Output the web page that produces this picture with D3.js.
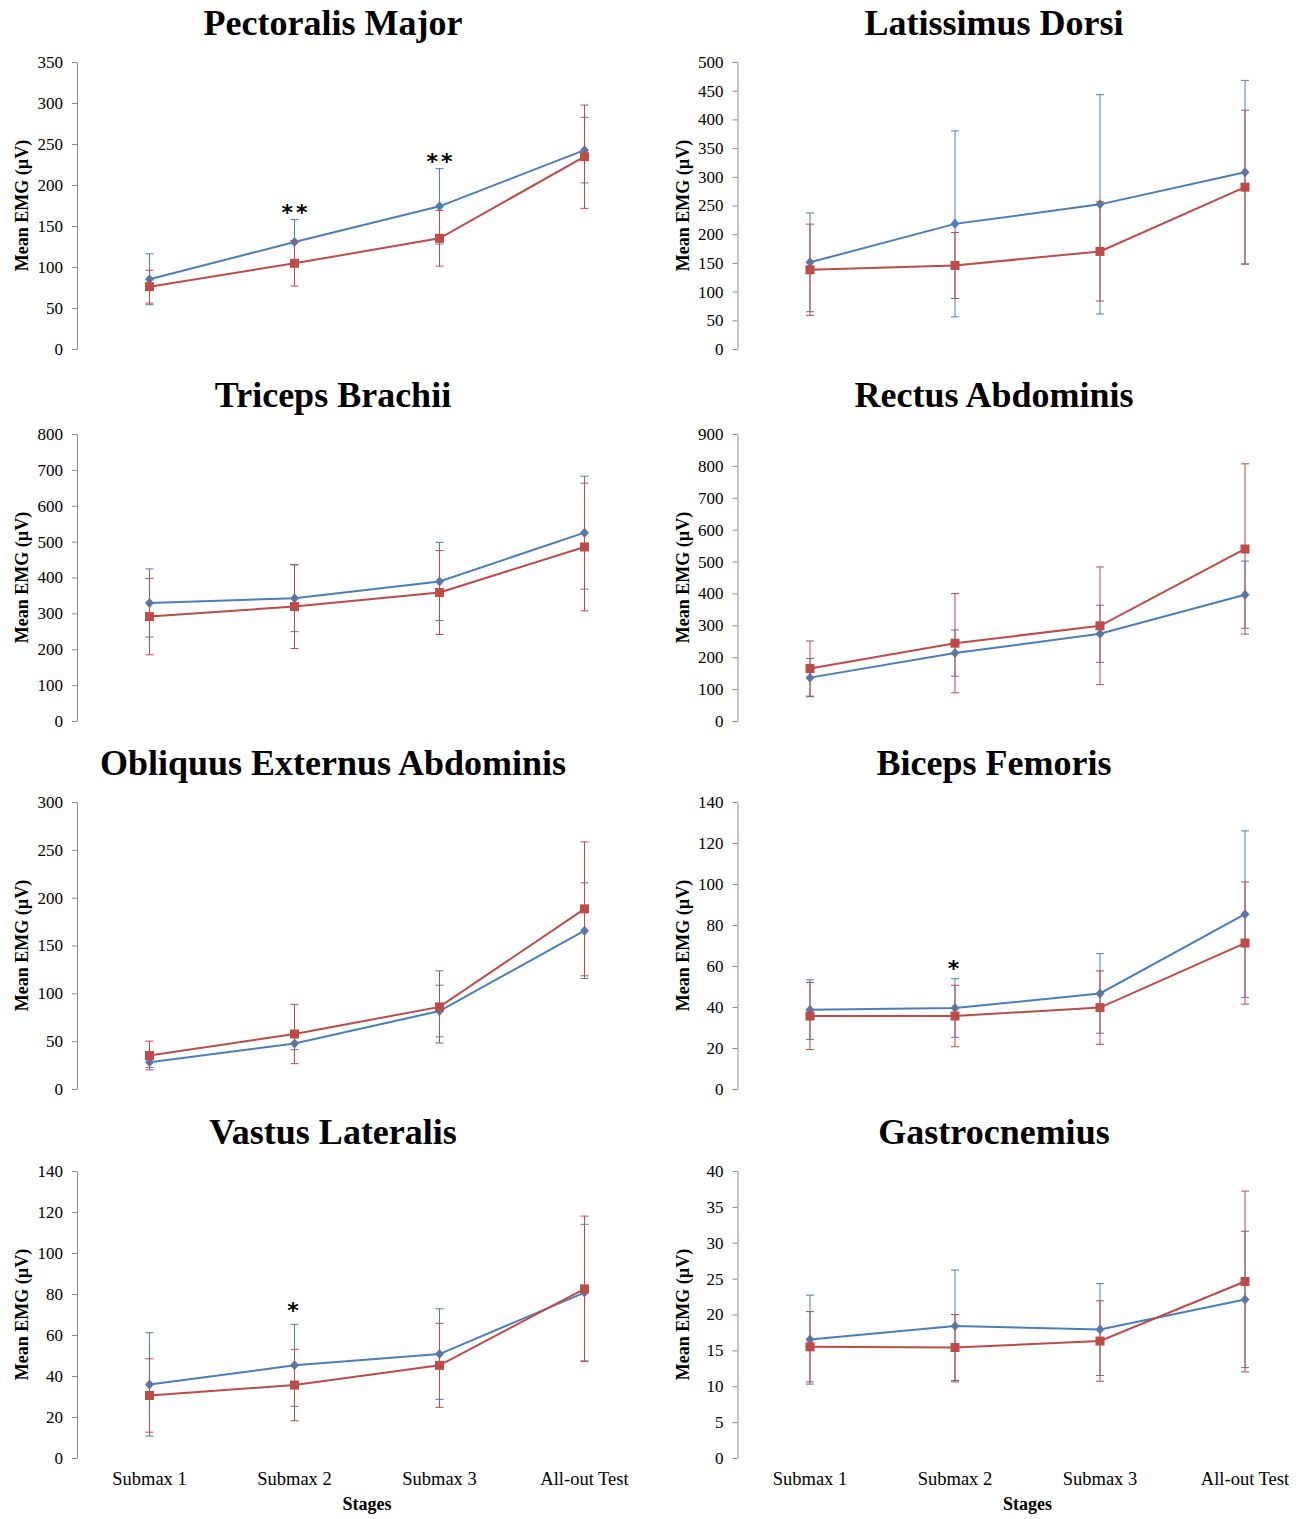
<!DOCTYPE html>
<html>
<head>
<meta charset="utf-8">
<script src="https://cdn.jsdelivr.net/npm/d3@7"></script>
<style>
  body { margin: 0; background: #fff; }
  svg { display: block; }
  .tick text { font-family: "Liberation Serif", "Times New Roman", serif; font-size: 17px; fill: #000; }
</style>
</head>
<body>
<div id="chart"></div>
<script>
// stages on the x axis
const stages = ["Submax 1", "Submax 2", "Submax 3", "All-out Test"];

// one entry per panel, left to right, top to bottom
const muscles = ["Pectoralis Major", "Latissimus Dorsi", "Triceps Brachii", "Rectus Abdominis",
  "Obliquus Externus Abdominis", "Biceps Femoris", "Vastus Lateralis", "Gastrocnemius"];
const yMax = [350, 500, 800, 900, 300, 140, 140, 40];
const yStep = [50, 50, 100, 100, 50, 20, 20, 5];

// blue series (diamonds)
const blueMean = [
  [85, 130.5, 174, 242.5],
  [151, 218, 252, 308],
  [329, 342, 389, 525],
  [136, 213, 273.5, 396],
  [28, 47.6, 81.5, 165.5],
  [38.7, 39.5, 46.6, 85.3],
  [35.9, 45.2, 50.7, 80.7],
  [16.5, 18.4, 17.9, 22.1]
];
const blueErr = [
  [31, 27.5, 46, 40],
  [86, 162, 191, 160],
  [95, 93, 109, 157.5],
  [60, 72.5, 89.6, 105.5],
  [5.5, 6.5, 27, 50],
  [14.5, 14.3, 19.4, 40.6],
  [25.2, 20, 22.1, 33.3],
  [6.2, 7.8, 6.4, 9.5]
];

// red series (squares)
const redMean = [
  [76, 104.5, 135, 234.5],
  [138, 145.5, 170, 282],
  [291, 319, 358, 485],
  [164.5, 244, 298.5, 539.5],
  [35, 57.5, 85.8, 188.3],
  [35.6, 35.6, 39.7, 71.2],
  [30.5, 35.6, 45.2, 82.5],
  [15.5, 15.4, 16.3, 24.6]
];
const redErr = [
  [20, 27.8, 34, 63],
  [79.5, 57.5, 86.5, 134],
  [106.5, 117, 117, 178],
  [86.5, 155.5, 184.5, 267],
  [15, 31, 37.7, 70],
  [16.4, 15, 17.9, 29.8],
  [17.9, 17.4, 20.5, 35.5],
  [4.9, 4.6, 5.6, 12.6]
];

// significance marks: [panel, stage index, text, value at the mark]
const stars = [
  [0, 1, "**", 172],
  [0, 2, "**", 234],
  [5, 1, "*", 61],
  [6, 1, "*", 74]
];

const width = 1297, height = 1519;
const colX = [77, 737.5];
const titleX = [333, 994];
const labelX = [22, 683];
const rowTop = [62, 434, 802, 1171];
const plotW = 580, plotH = 287;
const blue = "#4a7ebb", red = "#be4b48";
const serif = '"Liberation Serif", "Times New Roman", serif';

const svg = d3.select("#chart").append("svg")
  .attr("width", width)
  .attr("height", height);

muscles.forEach((name, i) => {
  const col = i % 2, row = Math.floor(i / 2);
  const g = svg.append("g")
    .attr("transform", `translate(${colX[col]},${rowTop[row]})`);

  const x = d3.scaleBand().domain(stages).range([0, plotW]);
  const y = d3.scaleLinear().domain([0, yMax[i]]).range([plotH, 0]);
  const cx = s => x(s) + x.bandwidth() / 2;

  // title
  svg.append("text")
    .attr("x", titleX[col])
    .attr("y", rowTop[row] - 27)
    .attr("text-anchor", "middle")
    .style("font-family", serif)
    .style("font-weight", "bold")
    .style("font-size", "36px")
    .text(name);

  // y axis
  const axis = g.append("g")
    .call(d3.axisLeft(y)
      .tickValues(d3.range(0, yMax[i] + yStep[i] / 2, yStep[i]))
      .tickSize(5)
      .tickSizeOuter(0)
      .tickPadding(9));
  axis.select(".domain").attr("stroke", "#8c8c8c");
  axis.selectAll(".tick line").attr("stroke", "#8c8c8c");

  svg.append("text")
    .attr("transform", `translate(${labelX[col]},${rowTop[row] + plotH / 2}) rotate(-90)`)
    .attr("text-anchor", "middle")
    .attr("dy", "0.35em")
    .style("font-family", serif)
    .style("font-weight", "bold")
    .style("font-size", "18px")
    .text("Mean EMG (\u00b5V)");

  // x labels only on the bottom row
  if (row === 3) {
    stages.forEach(s => {
      g.append("text")
        .attr("x", cx(s))
        .attr("y", plotH + 27)
        .attr("text-anchor", "middle")
        .style("font-family", serif)
        .style("font-size", "18.5px")
        .text(s);
    });
    g.append("text")
      .attr("x", plotW / 2)
      .attr("y", plotH + 52)
      .attr("text-anchor", "middle")
      .style("font-family", serif)
      .style("font-weight", "bold")
      .style("font-size", "18px")
      .text("Stages");
  }

  const series = [
    { mean: blueMean[i], err: blueErr[i], color: blue, shape: "diamond" },
    { mean: redMean[i], err: redErr[i], color: red, shape: "square" }
  ];

  series.forEach(sr => {
    const pts = stages.map((s, k) => ({ s, v: sr.mean[k], e: sr.err[k] }));

    // error bars
    const eb = g.append("g").attr("stroke", sr.color).attr("stroke-width", 1);
    pts.forEach(p => {
      eb.append("line")
        .attr("x1", cx(p.s)).attr("x2", cx(p.s))
        .attr("y1", y(p.v + p.e)).attr("y2", y(p.v - p.e));
      [p.v + p.e, p.v - p.e].forEach(v => {
        eb.append("line")
          .attr("x1", cx(p.s) - 4).attr("x2", cx(p.s) + 4)
          .attr("y1", y(v)).attr("y2", y(v));
      });
    });

    g.append("path")
      .datum(pts)
      .attr("fill", "none")
      .attr("stroke", sr.color)
      .attr("stroke-width", 2)
      .attr("d", d3.line().x(p => cx(p.s)).y(p => y(p.v)));

    if (sr.shape === "diamond") {
      g.selectAll(null)
        .data(pts)
        .enter()
        .append("path")
        .attr("transform", p => `translate(${cx(p.s)},${y(p.v)})`)
        .attr("d", "M0,-5L4.5,0L0,5L-4.5,0Z")
        .attr("fill", sr.color);
    } else {
      g.selectAll(null)
        .data(pts)
        .enter()
        .append("rect")
        .attr("x", p => cx(p.s) - 4.5)
        .attr("y", p => y(p.v) - 4.5)
        .attr("width", 9)
        .attr("height", 9)
        .attr("fill", sr.color);
    }
  });

  stars.filter(st => st[0] === i).forEach(st => {
    g.append("text")
      .attr("x", cx(stages[st[1]]) + (st[2].length > 1 ? 1.5 : 0))
      .attr("y", y(st[3]))
      .attr("dy", "0.55em")
      .attr("text-anchor", "middle")
      .style("font-family", '"DejaVu Sans", sans-serif')
      .style("font-weight", "bold")
      .style("font-size", "22px")
      .style("letter-spacing", "3px")
      .text(st[2]);
  });
});
</script>
</body>
</html>
